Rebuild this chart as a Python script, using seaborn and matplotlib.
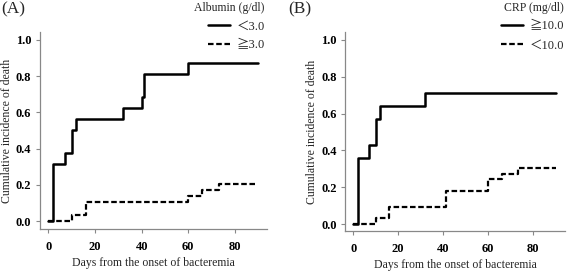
import matplotlib
matplotlib.use("Agg")
import matplotlib.pyplot as plt
import seaborn as sns
import pandas as pd
from matplotlib.lines import Line2D

# step curves (event day, cumulative incidence after that day)
alb_low_days = [0, 2, 7, 10, 12, 32, 40, 41, 60, 90]
alb_low_cum = [0, 0.3125, 0.375, 0.5, 0.5625, 0.625, 0.6875, 0.8125, 0.875, 0.875]
alb_high_days = [0, 10, 16, 60, 66, 73, 89]
alb_high_cum = [0, 0.0345, 0.1034, 0.1379, 0.1724, 0.2069, 0.2069]

crp_high_days = [0, 2, 7, 10, 12, 32, 90]
crp_high_cum = [0, 0.3571, 0.4286, 0.5714, 0.6429, 0.7143, 0.7143]
crp_low_days = [0, 10, 16, 41, 60, 66, 73, 90]
crp_low_cum = [0, 0.0303, 0.0909, 0.1818, 0.2424, 0.2727, 0.3030, 0.3030]

panel_labels = ["(A)", "(B)"]
legend_titles = ["Albumin (g/dl)", "CRP (mg/dl)"]
legend_labels = [["＜3.0", "≧3.0"], ["≧10.0", "＜10.0"]]
x_ticks = [0, 20, 40, 60, 80]
y_ticks = [0.0, 0.2, 0.4, 0.6, 0.8, 1.0]

sns.set_style("ticks")
plt.rcParams['font.family'] = ['Liberation Serif', 'Noto Sans CJK JP']
plt.rcParams['axes.edgecolor'] = '#888888'
plt.rcParams['xtick.color'] = '#888888'
plt.rcParams['ytick.color'] = '#888888'
plt.rcParams['xtick.labelcolor'] = 'black'
plt.rcParams['ytick.labelcolor'] = 'black'

dash = (0, (2.5, 1.2))

fig = plt.figure(figsize=(5.67, 2.71), dpi=100)
ax1 = fig.add_axes([0.0697, 0.155, 0.401, 0.727])
ax2 = fig.add_axes([0.6085, 0.1476, 0.388, 0.734])

panels = [
    (ax1, (alb_low_days, alb_low_cum), (alb_high_days, alb_high_cum),
     (-3.8, 93.7), (-0.044, 1.044), 0.469),
    (ax2, (crp_high_days, crp_high_cum), (crp_low_days, crp_low_cum),
     (-3.65, 94.1), (-0.038, 1.043), 0.997),
]

for i, (ax, solid, dashed, xl, yl, lx) in enumerate(panels):
    d1 = pd.DataFrame({'day': solid[0], 'cum': solid[1]})
    d2 = pd.DataFrame({'day': dashed[0], 'cum': dashed[1]})
    sns.lineplot(data=d2, x='day', y='cum', ax=ax, color='black', lw=1.6,
                 drawstyle='steps-post', estimator=None, linestyle=dash)
    sns.lineplot(data=d1, x='day', y='cum', ax=ax, color='black', lw=1.8,
                 drawstyle='steps-post', estimator=None)
    ax.set_xlim(*xl)
    ax.set_ylim(*yl)
    ax.set_xticks(x_ticks)
    ax.set_yticks(y_ticks)
    ax.set_yticklabels([f"{v:.1f}" for v in y_ticks])
    for lab in ax.get_xticklabels() + ax.get_yticklabels():
        lab.set_fontweight('bold')
        lab.set_fontsize(9)
    ax.tick_params(axis='x', length=3, width=0.8, pad=5.5)
    ax.tick_params(axis='y', length=3, width=0.8, pad=3)
    for s in ['top', 'right']:
        ax.spines[s].set_visible(False)
    for s in ['left', 'bottom']:
        ax.spines[s].set_linewidth(0.9)
    ax.set_xlabel("Days from the onset of bacteremia", fontsize=8.5, labelpad=3)
    ax.set_ylabel("Cumulative incidence of death", fontsize=8.5, labelpad=2)
    handles = [Line2D([], [], color='black', lw=1.8),
               Line2D([], [], color='black', lw=1.6, linestyle=dash)]
    ax.legend(handles, legend_labels[i], title=legend_titles[i],
              loc='upper right', bbox_to_anchor=(lx, 0.998),
              bbox_transform=fig.transFigure, frameon=False,
              fontsize=9, title_fontsize=8.5, handlelength=1.8,
              handletextpad=0.5, labelspacing=0.55, borderpad=0.1,
              borderaxespad=0, alignment='right')

fig.text(0.002, 0.995, panel_labels[0], fontsize=12.5, va='top', ha='left')
fig.text(0.508, 0.995, panel_labels[1], fontsize=12.5, va='top', ha='left')

fig.savefig("out.png", dpi=100)
